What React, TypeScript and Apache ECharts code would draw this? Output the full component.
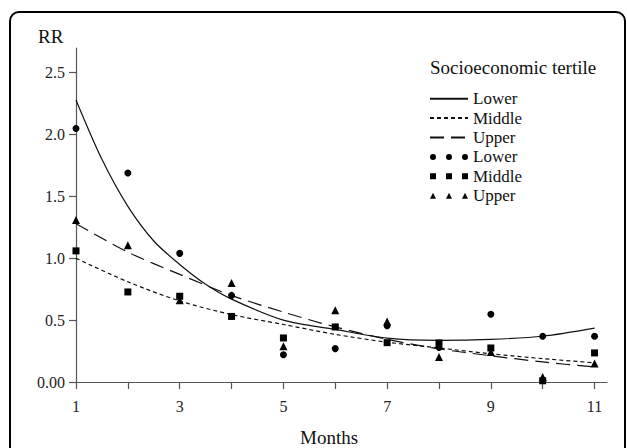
import React, { useEffect, useRef } from "react";
import * as echarts from "echarts";

// ---- Data ----
const months = [1, 2, 3, 4, 5, 6, 7, 8, 9, 10, 11];
const xLabelMonths = [1, 3, 5, 7, 9, 11];
const yTickValues = [0, 0.5, 1, 1.5, 2, 2.5];

const tertiles = ["Lower", "Middle", "Upper"];

// observed RR by month
const lowerObs = [2.05, 1.69, 1.04, 0.7, 0.22, 0.27, 0.455, 0.28, 0.548, 0.37, 0.37];
const middleObs = [1.06, 0.728, 0.693, 0.53, 0.356, 0.445, 0.318, 0.316, 0.275, 0.01, 0.235];
const upperObs = [1.31, 1.106, 0.66, 0.8, 0.289, 0.58, 0.49, 0.202, 0.243, 0.04, 0.149];

// fitted curves
const lowerFitMonths = [1, 1.5, 2, 2.5, 3, 3.5, 4, 5, 6, 7, 8, 9, 10, 11];
const lowerFit = [2.28, 1.8, 1.42, 1.14, 0.95, 0.79, 0.67, 0.5, 0.425, 0.355, 0.337, 0.345, 0.37, 0.435];
const middleFit = [1.0, 0.81, 0.655, 0.545, 0.465, 0.385, 0.322, 0.275, 0.228, 0.189, 0.155];
const upperFit = [1.28, 1.05, 0.87, 0.7, 0.565, 0.445, 0.345, 0.268, 0.212, 0.162, 0.121];

const legendTitle = "Socioeconomic tertile";
const yName = "RR";
const xName = "Months";

const FONT = "'Liberation Serif', 'Times New Roman', serif";
const INK = "#111";
const AXIS = "#555";

const dotsIcon =
  "path://M0,3A3,3 0 1,1 6,3A3,3 0 1,1 0,3Z M16,3A3,3 0 1,1 22,3A3,3 0 1,1 16,3Z M32,3A3,3 0 1,1 38,3A3,3 0 1,1 32,3Z";
const squaresIcon = "path://M0,0h6v6h-6Z M16,0h6v6h-6Z M32,0h6v6h-6Z";
const trianglesIcon = "path://M0,6L3,0L6,6Z M16,6L19,0L22,6Z M32,6L35,0L38,6Z";

export default function App() {
  const ref = useRef<HTMLDivElement>(null);

  useEffect(() => {
    document.body.style.margin = "0";
    if (!ref.current) return;
    const chart = echarts.init(ref.current, undefined, { renderer: "svg" });

    const pair = (xs: number[], ys: number[]) => xs.map((x, i) => [x, ys[i]]);
    const fitData = [pair(lowerFitMonths, lowerFit), pair(months, middleFit), pair(months, upperFit)];
    const obsData = [pair(months, lowerObs), pair(months, middleObs), pair(months, upperObs)];
    const dashTypes: any[] = ["solid", [4, 3], [14, 7]];
    const symbols = ["circle", "rect", "triangle"];
    const symbolSizes = [7, 7, 8];
    const icons = [dotsIcon, squaresIcon, trianglesIcon];

    const lineSeries = tertiles.map((t, i) => ({
      type: "line",
      name: t + " fit",
      data: fitData[i],
      symbol: "none",
      showSymbol: false,
      smooth: 0.3,
      lineStyle: { color: INK, width: 1.2, type: dashTypes[i] },
      itemStyle: { color: INK },
      z: 2,
    }));
    const scatterSeries = tertiles.map((t, i) => ({
      type: "scatter",
      name: t + " obs",
      data: obsData[i],
      symbol: symbols[i],
      symbolSize: symbolSizes[i],
      itemStyle: { color: "#000", opacity: 1 },
      z: 3,
    }));

    chart.setOption({
      animation: false,
      backgroundColor: "#fff",
      title: {
        text: legendTitle,
        left: 430,
        top: 58,
        padding: 0,
        textStyle: { fontFamily: FONT, fontSize: 19, fontWeight: "normal", color: INK },
      },
      legend: {
        orient: "vertical",
        left: 429,
        top: 89,
        padding: 0,
        itemWidth: 38,
        itemHeight: 6,
        itemGap: 0,
        selectedMode: false,
        formatter: (name: string) => name.split(" ")[0],
        textStyle: { fontFamily: FONT, fontSize: 17, color: INK, lineHeight: 19.4 },
        data: [
          ...tertiles.map((t) => ({
            name: t + " fit",
            itemStyle: { color: "rgba(0,0,0,0)", opacity: 0, borderWidth: 0 },
          })),
          ...tertiles.map((t, i) => ({
            name: t + " obs",
            icon: icons[i],
            itemStyle: { color: "#000", opacity: 1 },
          })),
        ],
      },
      grid: { left: 76, right: 20, top: 48, bottom: 66 },
      xAxis: {
        type: "value",
        min: 1,
        max: 11.24,
        axisLine: { show: true, onZero: true, lineStyle: { color: AXIS, width: 1.2 } },
        axisTick: { show: true, customValues: months, length: 7, lineStyle: { color: AXIS, width: 1.2 } },
        axisLabel: {
          customValues: xLabelMonths,
          margin: 16,
          fontFamily: FONT,
          fontSize: 16,
          color: "#222",
        },
        splitLine: { show: false },
      },
      yAxis: {
        type: "value",
        min: 0,
        max: 2.7,
        axisLine: { show: true, lineStyle: { color: AXIS, width: 1.2 } },
        axisTick: { show: true, customValues: yTickValues, length: 7, lineStyle: { color: AXIS, width: 1.2 } },
        axisLabel: {
          customValues: yTickValues,
          margin: 11,
          fontFamily: FONT,
          fontSize: 16,
          color: "#222",
          formatter: (v: number) => (v === 0 ? "0.00" : v.toFixed(1)),
        },
        splitLine: { show: false },
      },
      graphic: [
        {
          type: "rect",
          silent: true,
          z: -10,
          shape: { x: 10, y: 12, width: 615, height: 480, r: 9 },
          style: { fill: "none", stroke: "#000", lineWidth: 2 },
        },
        {
          type: "text",
          x: 38,
          y: 36,
          style: { text: yName, font: `19px ${FONT}`, fill: INK, align: "left", verticalAlign: "middle" },
        },
        {
          type: "text",
          x: 300,
          y: 437,
          style: { text: xName, font: `19px ${FONT}`, fill: INK, align: "left", verticalAlign: "middle" },
        },
      ],
      series: [...lineSeries, ...scatterSeries],
    });

    return () => chart.dispose();
  }, []);

  return <div ref={ref} style={{ width: 627, height: 448 }} />;
}
